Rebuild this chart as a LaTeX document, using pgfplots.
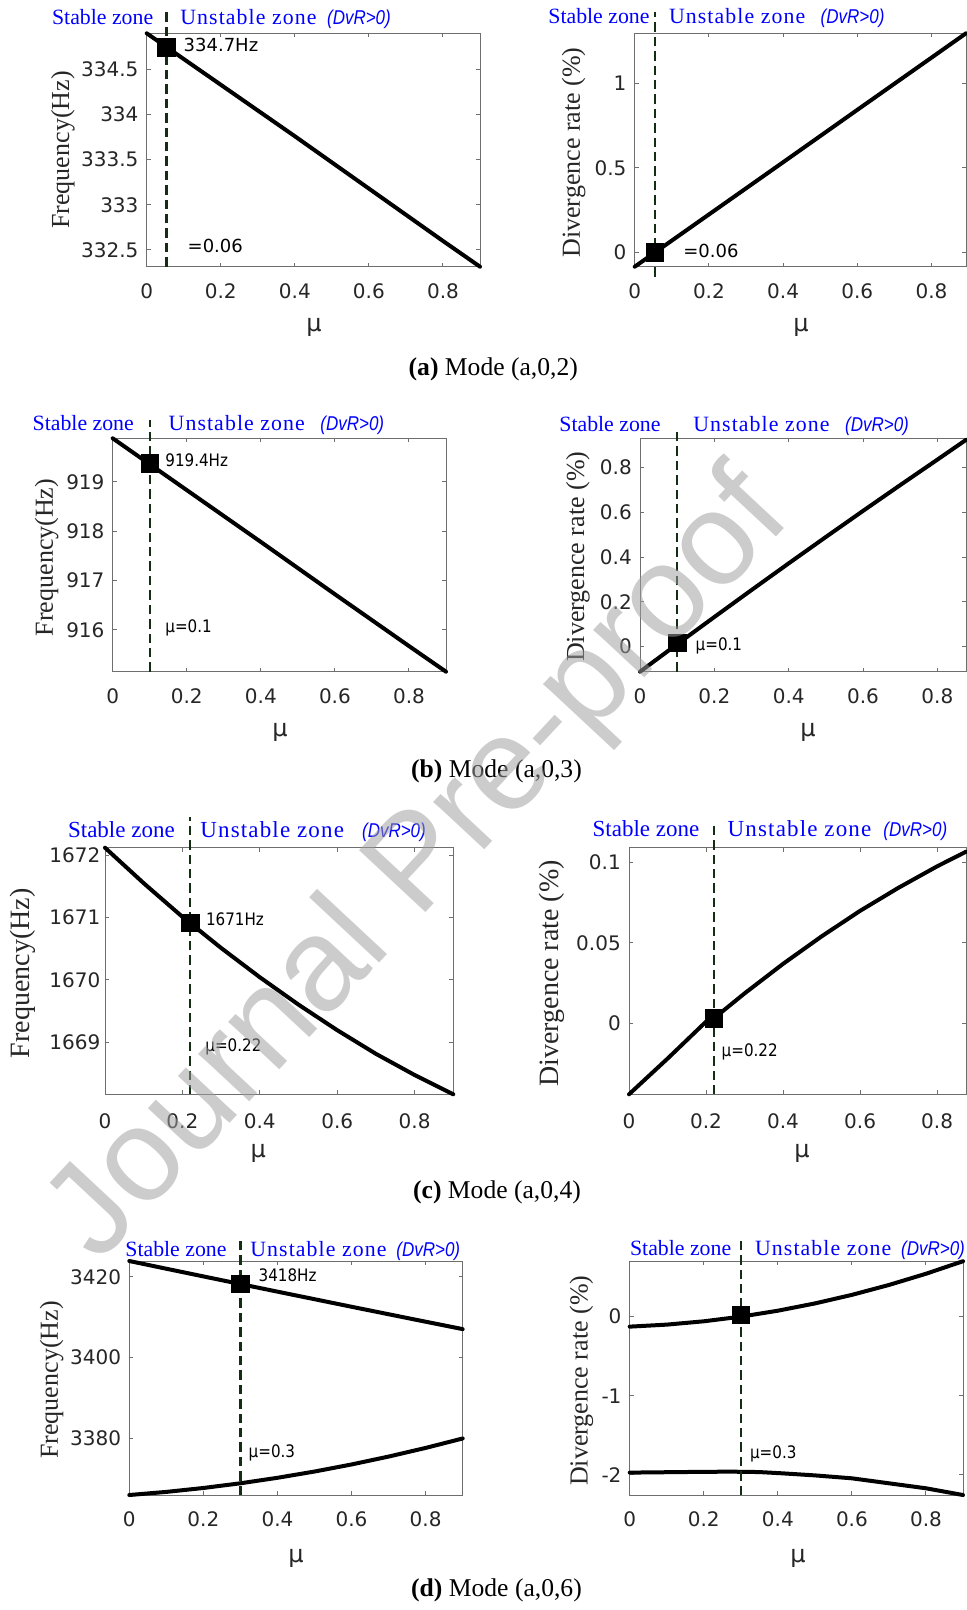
\documentclass[border=0pt]{standalone}
\usepackage{pgfplots}
\pgfplotsset{compat=1.18}
\usepackage{fontspec}
\setmainfont{Liberation Serif}
\newfontfamily\tickfont{DejaVu Sans}
\newfontfamily\annfont[FakeStretch=0.88]{DejaVu Sans}
\newfontfamily\dvrfont[FakeStretch=0.85]{Liberation Sans}
\newfontfamily\unstfont[LetterSpace=5]{Liberation Serif}
\newfontfamily\wmfont{Liberation Sans}
\definecolor{vl}{RGB}{20,45,20}
\definecolor{axg}{RGB}{110,110,110}
\definecolor{txg}{RGB}{38,38,38}

\pgfplotsset{
  mtl/.style={
    scale only axis, anchor=north west, clip=false,
    axis line style={axg, line width=0.5pt},
    every tick/.style={axg, line width=0.5pt},
    major tick length=2pt,
    tick align=inside,
    xmin=0, xtick={0,0.2,0.4,0.6,0.8},
    ticklabel style={font=\tickfont\fontsize{10}{12}\selectfont, text=txg},
    /pgf/number format/fixed,
    /pgf/number format/precision=2,
    /pgf/number format/assume math mode=true,
    /pgf/number format/1000 sep={},
    scaled ticks=false,
    xticklabel shift=4.8pt, yticklabel shift=0.6pt,
  },
  crv/.style={black, line width=2pt, line join=round, line cap=round, no marks},
  vln/.style={vl, line width=1.2pt, dash pattern=on 4.7pt off 2.5pt, no marks},
  mk/.style={only marks, mark=square*, mark size=4.4pt, black},
}

% titles: #1 x stable, #2 x unstable, #3 x dvr, #4 baseline y, #5 size
\newcommand\ttl[5]{%
  \node[anchor=base west, inner sep=0, text=blue, font=\fontsize{#5}{12}\selectfont] at (#1,#4) {Stable zone};
  \node[anchor=base west, inner sep=0, text=blue, font=\unstfont\fontsize{#5}{12}\selectfont] at (#2,#4) {Unstable zone};
  \node[anchor=base west, inner sep=0, text=blue, font=\dvrfont\itshape\fontsize{10}{12}\selectfont] at (#3,#4) {(DvR>0)};
}
\newcommand\mulab[2]{\node[anchor=base, inner sep=0, text=txg, font=\tickfont\fontsize{12}{14}\selectfont] at (#1,#2) {μ};}
\newcommand\ylab[4]{\node[rotate=90, inner sep=0, text=txg, font=\fontsize{#4}{15}\selectfont] at (#1,#2) {#3};}
\newcommand\ann[3]{\node[anchor=base west, inner sep=0, font=\annfont\fontsize{8.6}{10}\selectfont] at (#1,#2) {#3};}

\begin{document}
\begin{tikzpicture}
\path[use as bounding box] (0,0) rectangle (483pt,-805pt);

% ---------- (a) left
\begin{axis}[mtl, at={(73.35pt,-16.65pt)}, width=166.65pt, height=116.7pt,
  xmax=0.9, ymin=332.315, ymax=334.9, ytick={332.5,333,333.5,334,334.5}]
\addplot[crv] coordinates {(0,334.90)(0.2,334.33)(0.4,333.76)(0.6,333.18)(0.8,332.60)(0.9,332.315)};
\addplot[vln] coordinates {(0.054,332.315)(0.054,335.16)};
\addplot[mk] coordinates {(0.054,334.745)};
\end{axis}
% ---------- (a) right
\begin{axis}[mtl, at={(317.35pt,-16.65pt)}, width=165.65pt, height=116.7pt,
  xmax=0.893, ymin=-0.085, ymax=1.296, ytick={0,0.5,1}]
\addplot[crv] coordinates {(0,-0.085)(0.2,0.224)(0.4,0.533)(0.6,0.843)(0.8,1.152)(0.893,1.296)};
\addplot[vln] coordinates {(0.054,-0.144)(0.054,1.424)};
\addplot[mk] coordinates {(0.054,0.0)};
\end{axis}
% ---------- (b) left
\begin{axis}[mtl, at={(56.35pt,-219.15pt)}, width=166.65pt, height=116.7pt,
  xmax=0.9, ymin=915.15, ymax=919.88, ytick={916,917,918,919}]
\addplot[crv] coordinates {(0,919.88)(0.2,918.83)(0.4,917.78)(0.6,916.72)(0.8,915.67)(0.9,915.15)};
\addplot[vln] coordinates {(0.1,915.15)(0.1,920.25)};
\addplot[mk] coordinates {(0.1,919.37)};
\end{axis}
% ---------- (b) right
\begin{axis}[mtl, at={(320pt,-219.15pt)}, width=163pt, height=116.7pt,
  xmax=0.877, ymin=-0.113, ymax=0.931, ytick={0,0.2,0.4,0.6,0.8}]
\addplot[crv] coordinates {(0,-0.113)(0.1,0.0101)(0.2,0.1317)(0.3,0.2523)(0.4,0.3717)(0.5,0.4897)(0.6,0.6064)(0.7,0.7217)(0.8,0.8357)(0.877,0.924)};
\addplot[vln] coordinates {(0.1,-0.113)(0.1,0.968)};
\addplot[mk] coordinates {(0.1,0.015)};
\end{axis}
% ---------- (c) left
\begin{axis}[mtl, at={(52.5pt,-423.85pt)}, width=174.15pt, height=123.3pt,
  xmax=0.9, ymin=1668.16, ymax=1672.12, ytick={1669,1670,1671,1672},
  yticklabel shift=-1.2pt, xticklabel shift=6pt]
\addplot[crv] coordinates {(0,1672.12)(0.1,1671.55)(0.2,1671.01)(0.22,1670.91)(0.3,1670.51)(0.4,1670.04)(0.5,1669.60)(0.6,1669.19)(0.7,1668.81)(0.8,1668.47)(0.9,1668.16)};
\addplot[vln] coordinates {(0.22,1668.16)(0.22,1672.62)};
\addplot[mk] coordinates {(0.22,1670.91)};
\end{axis}
% ---------- (c) right
\begin{axis}[mtl, at={(314.5pt,-423.85pt)}, width=168.5pt, height=123.3pt,
  xmax=0.875, ymin=-0.0442, ymax=0.1093, ytick={0,0.05,0.1}, xticklabel shift=6pt]
\addplot[crv] coordinates {(0,-0.0442)(0.1,-0.0220)(0.2,0.0010)(0.22,0.003)(0.3,0.0186)(0.4,0.0370)(0.5,0.0541)(0.6,0.0700)(0.7,0.0844)(0.8,0.0977)(0.875,0.1068)};
\addplot[vln] coordinates {(0.22,-0.0442)(0.22,0.1255)};
\addplot[mk] coordinates {(0.22,0.003)};
\end{axis}
% ---------- (d) left
\begin{axis}[mtl, at={(64.65pt,-630.5pt)}, width=166.7pt, height=117pt,
  xmax=0.9, ymin=3366.0, ymax=3423.9, ytick={3380,3400,3420}]
\addplot[crv] coordinates {(0,3423.9)(0.1,3421.99)(0.2,3420.09)(0.3,3418.20)(0.4,3416.32)(0.5,3414.45)(0.6,3412.58)(0.7,3410.73)(0.8,3408.88)(0.9,3407.05)};
\addplot[crv] coordinates {(0,3366.0)(0.1,3366.77)(0.2,3367.74)(0.3,3368.90)(0.4,3370.26)(0.5,3371.81)(0.6,3373.56)(0.7,3375.51)(0.8,3377.65)(0.9,3379.99)};
\addplot[vln] coordinates {(0.3,3366.0)(0.3,3429.1)};
\addplot[mk] coordinates {(0.3,3418.2)};
\end{axis}
% ---------- (d) right
\begin{axis}[mtl, at={(314.85pt,-630.5pt)}, width=166.65pt, height=117pt,
  xmax=0.9, ymin=-2.253, ymax=0.703, ytick={-2,-1,0}]
\addplot[crv] coordinates {(0,-0.126)(0.1,-0.1006)(0.2,-0.0586)(0.3,0.0)(0.4,0.0752)(0.5,0.167)(0.6,0.2754)(0.7,0.4004)(0.8,0.542)(0.9,0.7002)};
\addplot[crv] coordinates {(0,-1.970)(0.1,-1.965)(0.2,-1.960)(0.275,-1.958)(0.35,-1.963)(0.412,-1.979)(0.5,-2.005)(0.6,-2.042)(0.7,-2.105)(0.8,-2.168)(0.9,-2.253)};
\addplot[vln] coordinates {(0.3,-2.253)(0.3,0.993)};
\addplot[mk] coordinates {(0.3,0.02)};
\end{axis}

\begin{scope}[x=0.5pt, y=-0.5pt]
% titles
\ttl{51.7}{180}{326.7}{25}{10.9}
\ttl{548}{668.7}{820.3}{23.3}{10.9}
\ttl{32.3}{168.3}{320}{430.7}{10.9}
\ttl{559}{693}{844.7}{431.7}{10.9}
\ttl{67.7}{200}{361.7}{837.7}{11.5}
\ttl{592.3}{727.3}{883}{836.7}{11.5}
\ttl{125}{250}{396}{1256.7}{10.9}
\ttl{629.7}{754.7}{900.7}{1255}{10.9}
% y labels
\ylab{63}{150}{Frequency(Hz)}{13}
\ylab{573.7}{152.5}{Divergence rate (\%)}{13}
\ylab{46.7}{557.5}{Frequency(Hz)}{13}
\ylab{578}{556.7}{Divergence rate (\%)}{13}
\ylab{23.3}{973.3}{Frequency(Hz)}{14}
\ylab{552}{973.3}{Divergence rate (\%)}{14}
\ylab{51.7}{1380}{Frequency(Hz)}{13}
\ylab{581.3}{1380.8}{Divergence rate (\%)}{13}
% x labels
\mulab{314}{332}
\mulab{801}{332}
\mulab{280}{736.7}
\mulab{808}{736.7}
\mulab{258.3}{1157}
\mulab{802}{1157}
\mulab{296}{1562}
\mulab{798}{1562}
% annotations
\node[anchor=base west, inner sep=0, font=\tickfont\fontsize{9}{10}\selectfont] at (183.3,51.7) {334.7Hz};
\node[anchor=base west, inner sep=0, font=\tickfont\fontsize{9}{10}\selectfont] at (187.3,252.7) {=0.06};
\node[anchor=base west, inner sep=0, font=\tickfont\fontsize{9}{10}\selectfont] at (683,257.3) {=0.06};
\ann{165}{466.7}{919.4Hz}
\ann{165}{632.7}{μ=0.1}
\ann{695.3}{650.7}{μ=0.1}
\ann{205.7}{925}{1671Hz}
\ann{205}{1051.7}{μ=0.22}
\ann{721.3}{1056.7}{μ=0.22}
\ann{258.3}{1281.7}{3418Hz}
\ann{248.3}{1457.3}{μ=0.3}
\ann{749.7}{1458.3}{μ=0.3}
% captions
\node[anchor=base, inner sep=0, font=\fontsize{12.8}{14}\selectfont] at (493.3,375) {\textbf{(a)} Mode (a,0,2)};
\node[anchor=base, inner sep=0, font=\fontsize{12.8}{14}\selectfont] at (496.5,777) {\textbf{(b)} Mode (a,0,3)};
\node[anchor=base, inner sep=0, font=\fontsize{12.8}{14}\selectfont] at (497,1198) {\textbf{(c)} Mode (a,0,4)};
\node[anchor=base, inner sep=0, font=\fontsize{12.8}{14}\selectfont] at (496.5,1596) {\textbf{(d)} Mode (a,0,6)};
% watermark
\node[rotate=47, inner sep=0, text=black!38, opacity=0.53, font=\wmfont\fontsize{66}{70}\selectfont] at (421,868) {Journal Pre-proof};
\end{scope}
\end{tikzpicture}
\end{document}
